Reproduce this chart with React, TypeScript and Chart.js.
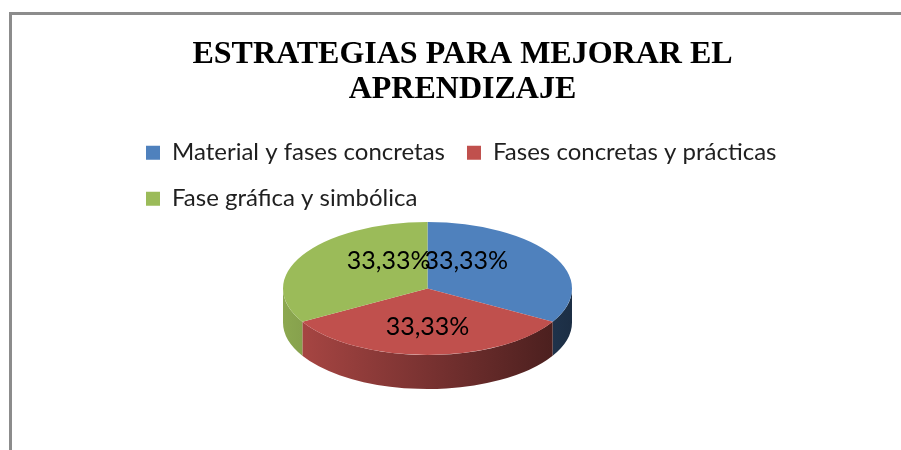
import { useEffect, useRef } from 'react';
import { Chart, registerables } from 'chart.js';

Chart.register(...registerables);

const titleLines = ['ESTRATEGIAS PARA MEJORAR EL', 'APRENDIZAJE'];
const categories = ['Material y fases concretas', 'Fases concretas y prácticas', 'Fase gráfica y simbólica'];
const values = [33.33, 33.33, 33.33];
const colors = ['#4F81BD', '#C0504D', '#9BBB59'];

function shade(hex: string, f: number): string {
  const n = parseInt(hex.slice(1), 16);
  const r = Math.round(((n >> 16) & 255) * f);
  const g = Math.round(((n >> 8) & 255) * f);
  const b = Math.round((n & 255) * f);
  return `rgb(${r},${g},${b})`;
}

const formatPct = (v: number) => v.toFixed(2).replace('.', ',') + '%';

const pie3d = {
  id: 'pie3d',
  beforeDatasetsDraw(chart: any, _args: any, opts: any) {
    const meta = chart.getDatasetMeta(0);
    chart.$pie3dSaved = false;
    if (!meta.data.length) return;
    const ctx = chart.ctx as CanvasRenderingContext2D;
    const { cx, cy, rx, ry, depth } = opts;
    const PI = Math.PI;
    meta.data.forEach((arc: any, i: number) => {
      const { startAngle, endAngle } = arc.getProps(['startAngle', 'endAngle'], true);
      const base = colors[i % colors.length];
      for (const k of [-1, 0, 1]) {
        const s = Math.max(startAngle + 2 * PI * k, 0);
        const e = Math.min(endAngle + 2 * PI * k, PI);
        if (e <= s) continue;
        const grad = ctx.createLinearGradient(cx - rx, 0, cx + rx, 0);
        grad.addColorStop(0, shade(base, 0.9));
        grad.addColorStop(0.5, shade(base, 0.63));
        grad.addColorStop(1, shade(base, 0.36));
        ctx.save();
        ctx.beginPath();
        ctx.ellipse(cx, cy, rx, ry, 0, s, e, false);
        ctx.ellipse(cx, cy + depth, rx, ry, 0, e, s, true);
        ctx.closePath();
        ctx.fillStyle = grad;
        ctx.fill();
        ctx.restore();
      }
    });
    const { x, y, outerRadius } = meta.data[0].getProps(['x', 'y', 'outerRadius'], true);
    ctx.save();
    chart.$pie3dSaved = true;
    ctx.translate(cx, cy);
    ctx.scale(rx / outerRadius, ry / outerRadius);
    ctx.translate(-x, -y);
  },
  afterDatasetsDraw(chart: any, _args: any, opts: any) {
    const ctx = chart.ctx as CanvasRenderingContext2D;
    if (!chart.$pie3dSaved) return;
    ctx.restore();
    chart.$pie3dSaved = false;
    const meta = chart.getDatasetMeta(0);
    const { cx, cy, rx, ry } = opts;
    ctx.save();
    ctx.font = '25px Lato';
    ctx.fillStyle = '#000';
    ctx.textAlign = 'center';
    ctx.textBaseline = 'middle';
    meta.data.forEach((arc: any, i: number) => {
      const { startAngle, endAngle } = arc.getProps(['startAngle', 'endAngle'], true);
      const mid = (startAngle + endAngle) / 2;
      const lx = cx + 0.31 * rx * Math.cos(mid);
      const ly = cy - 5.5 + 0.66 * ry * Math.sin(mid);
      ctx.fillText(formatPct(values[i]), lx, ly);
    });
    ctx.restore();
  },
};

export default function App() {
  const ref = useRef<HTMLCanvasElement | null>(null);
  useEffect(() => {
    if (!ref.current) return;
    const chart = new Chart(ref.current, {
      type: 'pie',
      data: {
        labels: categories,
        datasets: [{ data: values, backgroundColor: colors, borderWidth: 0 }],
      },
      options: {
        animation: false,
        responsive: false,
        events: [],
        layout: { padding: { left: 124, right: 100, top: 20, bottom: 10 } },
        plugins: {
          title: {
            display: true,
            text: titleLines,
            color: '#000',
            font: { family: '"Liberation Serif", "Times New Roman", serif', size: 32, weight: 'bold', lineHeight: 1.09 },
            padding: { top: 17, bottom: 12 },
          },
          legend: {
            position: 'top',
            align: 'start',
            labels: {
              boxWidth: 14,
              boxHeight: 14,
              padding: 22,
              color: '#1f1f1f',
              font: { family: 'Lato', size: 24 },
            },
          },
          tooltip: { enabled: false },
          pie3d: { cx: 427.5, cy: 288.5, rx: 144.5, ry: 66.5, depth: 34 },
        } as any,
      },
      plugins: [pie3d],
    });
    return () => chart.destroy();
  }, []);

  return (
    <div style={{ position: 'absolute', left: 0, top: 0, width: 901, height: 450, overflow: 'hidden', background: '#fff' }}>
      <div
        style={{
          position: 'absolute',
          left: 9,
          top: 12,
          width: 1000,
          height: 1000,
          borderTop: '3px solid #8c8c8c',
          borderLeft: '3px solid #8c8c8c',
          boxSizing: 'border-box',
        }}
      />
      <canvas ref={ref} width={901} height={450} style={{ position: 'absolute', left: 0, top: 0, display: 'block' }} />
    </div>
  );
}
